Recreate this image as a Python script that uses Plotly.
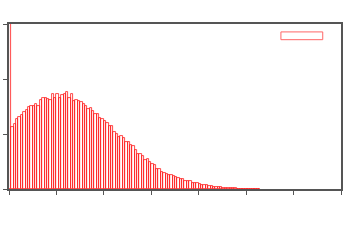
import numpy as np
import plotly.graph_objects as go

# Histogram: 140 bins of width 0.05 over [0, 7]
bin_width = 0.05
bin_centers = np.round(np.arange(0.025, 7.0, bin_width), 3)

counts = [
    300, 61.7, 64.7, 69.7, 71.7, 74.3, 77.3, 78.7, 82.0, 83.3,
    83.3, 84.7, 83.0, 89.3, 90.7, 91.3, 90.0, 89.3, 94.7, 91.3,
    94.7, 91.3, 94.0, 94.7, 96.7, 91.3, 95.3, 88.0, 89.3, 88.0,
    86.7, 84.7, 83.3, 80.0, 81.3, 78.0, 75.3, 74.7, 71.3, 69.7,
    68.0, 66.0, 63.3, 63.3, 57.3, 55.3, 52.0, 52.7, 51.3, 46.7,
    46.7, 44.0, 43.3, 38.8, 35.0, 35.0, 33.0, 29.0, 29.7, 27.0,
    25.0, 23.7, 20.3, 19.7, 17.0, 15.7, 15.0, 14.3, 14.3, 13.0,
    12.3, 11.0, 9.7, 9.7, 8.3, 7.7, 8.3, 6.3, 5.7, 5.7,
    5.0, 4.3, 3.7, 3.7, 3.0, 3.0, 2.3, 2.3, 1.7, 1.7,
    1.3, 1.0, 1.0, 0.8, 0.7, 0.6, 0.5, 0.5, 0.4, 0.3,
    0.3, 0.2, 0.2, 0.1, 0.1, 0.1, 0, 0, 0, 0,
    0, 0, 0, 0, 0, 0, 0, 0, 0, 0,
    0, 0, 0, 0, 0, 0, 0, 0, 0, 0,
    0, 0, 0, 0, 0, 0, 0, 0, 0, 0,
]

x_range = [0, 7]
y_range = [0, 165]

# empty bins are not drawn
xs = [x for x, c in zip(bin_centers, counts) if c > 0]
ys = [c for c in counts if c > 0]

fig = go.Figure()
fig.add_trace(go.Bar(
    x=xs,
    y=ys,
    width=bin_width,
    marker=dict(color="rgba(255,255,255,0)", line=dict(color="#ff1a1a", width=0.8)),
    showlegend=False,
))

axis_common = dict(
    showgrid=False, zeroline=False, showticklabels=False,
    showline=True, linecolor="#555555", linewidth=1.5, mirror=True,
    ticks="outside", ticklen=4, tickcolor="#555555", tickwidth=1,
    automargin=False,
)

fig.update_layout(
    width=350, height=245,
    margin=dict(l=9, r=9, t=24, b=56, autoexpand=False),
    paper_bgcolor="white", plot_bgcolor="white",
    bargap=0,
    xaxis=dict(range=x_range, dtick=1, tick0=0, **axis_common),
    yaxis=dict(range=y_range, dtick=55, tick0=0, **axis_common),
    shapes=[dict(
        type="rect", xref="paper", yref="paper",
        x0=0.819, x1=0.945, y0=0.905, y1=0.952,
        line=dict(color="#ff6666", width=1), fillcolor="white",
    )],
)

fig.write_html(
    "out.html",
    config={"displayModeBar": False},
    post_script="document.body.style.margin='0';document.body.style.padding='0';",
)
